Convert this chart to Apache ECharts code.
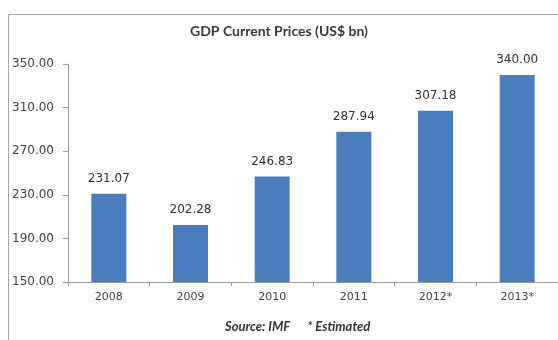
<!DOCTYPE html>
<html>
<head>
<meta charset="utf-8">
<script src="https://cdn.jsdelivr.net/npm/echarts@6/dist/echarts.min.js"></script>
<style>
  html, body { margin: 0; padding: 0; background: #fff; }
  #chart { width: 558px; height: 340px; }
</style>
</head>
<body>
<div id="chart"></div>
<script>
// GDP at current prices, US$ billion
const years = ['2008', '2009', '2010', '2011', '2012*', '2013*'];
const gdp = [231.07, 202.28, 246.83, 287.94, 307.18, 340.00];
const yTicks = { min: 150, max: 350, step: 40 };

const chart = echarts.init(document.getElementById('chart'), null, { renderer: 'canvas' });

chart.setOption({
  backgroundColor: '#ffffff',
  animation: false,
  textStyle: { fontFamily: 'DejaVu Sans' },
  title: {
    text: 'GDP Current Prices (US$ bn)',
    left: 'center',
    top: 19,
    textStyle: { fontFamily: 'Lato', fontSize: 14, fontWeight: 'bold', color: '#3a3a3a' }
  },
  graphic: [
    {
      type: 'rect',
      shape: { x: 8.5, y: 14.5, width: 560, height: 340 },
      style: { fill: 'none', stroke: '#a6a6a6', lineWidth: 1 },
      silent: true
    },
    {
      type: 'text',
      left: 225,
      top: 320,
      style: {
        text: 'Source: IMF      * Estimated',
        font: 'italic bold 13px Lato',
        fill: '#333'
      }
    }
  ],
  grid: { left: 68, top: 64, width: 494, height: 218, containLabel: false },
  xAxis: {
    type: 'category',
    data: years,
    boundaryGap: true,
    axisLine: { lineStyle: { color: '#999', width: 1 } },
    axisTick: { show: true, length: 4, lineStyle: { color: '#999' } },
    axisLabel: { color: '#444', fontSize: 11, margin: 10 }
  },
  yAxis: {
    type: 'value',
    min: yTicks.min,
    max: yTicks.max,
    interval: yTicks.step,
    splitLine: { show: false },
    axisLine: { show: true, lineStyle: { color: '#999', width: 1 } },
    axisTick: { show: true, length: 5, lineStyle: { color: '#999' } },
    axisLabel: {
      color: '#444',
      fontSize: 12,
      margin: 14,
      formatter: v => v.toFixed(2)
    }
  },
  series: [{
    type: 'bar',
    data: gdp,
    barWidth: 35,
    itemStyle: { color: '#4a7dbd' },
    label: {
      show: true,
      position: 'top',
      distance: 9,
      color: '#333',
      fontSize: 12,
      formatter: p => p.value.toFixed(2)
    }
  }]
});
</script>
</body>
</html>
